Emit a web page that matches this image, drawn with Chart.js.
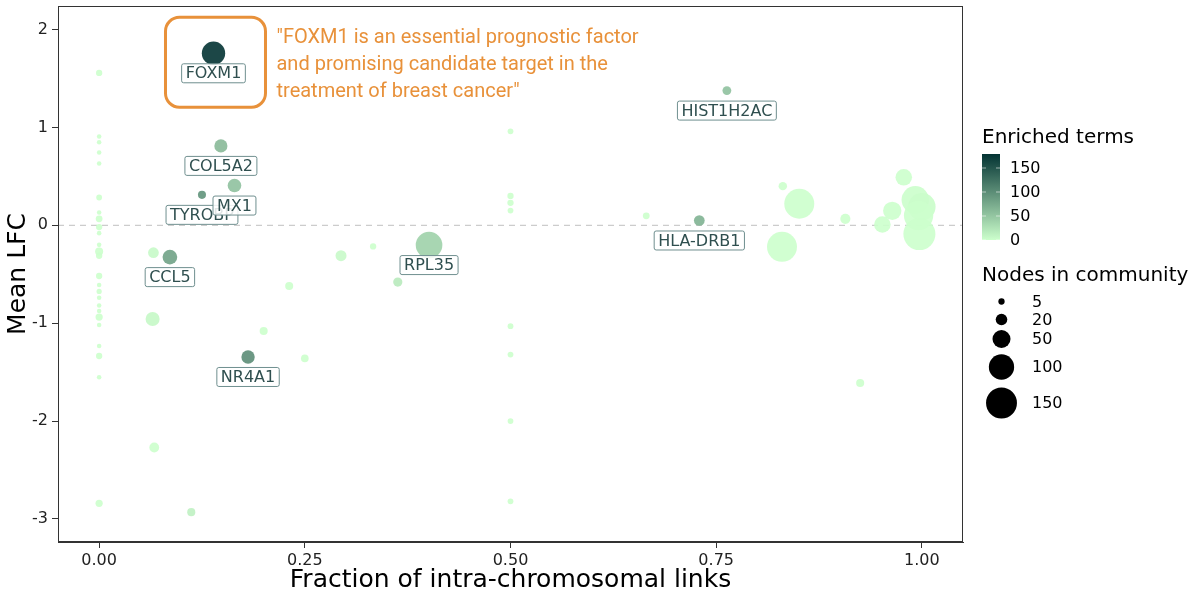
<!DOCTYPE html>
<html>
<head>
<meta charset="utf-8">
<script src="https://cdn.jsdelivr.net/npm/chart.js@4.4.0/dist/chart.umd.min.js"></script>
<style>
  html, body { margin: 0; padding: 0; background: #fff; }
</style>
</head>
<body>
<canvas id="myChart" width="1200" height="600"></canvas>
<script>
// one entry per community
const fraction = [
  0, 0, 0, 0, 0, 0, 0, 0, 0, 0, 0, 0, 0, 0, 0, 0, 0, 0, 0, 0, 0, 0, 0, 0, 0,
  0.066, 0.065, 0.067, 0.112, 0.231, 0.200, 0.250, 0.294, 0.333, 0.363,
  0.5, 0.5, 0.5, 0.5, 0.5, 0.5, 0.5, 0.5,
  0.665, 0.831, 0.851, 0.830, 0.907, 0.978, 0.964, 0.952, 0.992, 1.0, 0.996, 0.997, 0.925,
  0.139, 0.148, 0.125, 0.1645, 0.086, 0.181, 0.401, 0.7295, 0.763
];
const meanLfc = [
  1.556, 0.906, 0.849, 0.743, 0.631, 0.284, 0.131, 0.066, -0.018, -0.08, -0.20, -0.267, -0.311,
  -0.518, -0.61, -0.675, -0.74, -0.82, -0.875, -0.937, -1.018, -1.233, -1.335, -1.553, -2.84,
  -0.28, -0.957, -2.27, -2.93, -0.62, -1.08, -1.36, -0.31, -0.216, -0.58,
  0.96, 0.30, 0.23, 0.15, -1.03, -1.32, -2.00, -2.82,
  0.097, 0.40, 0.22, -0.22, 0.066, 0.49, 0.148, 0.008, 0.26, 0.19, 0.10, -0.09, -1.61,
  1.757, 0.811, 0.311, 0.406, -0.325, -1.345, -0.202, 0.049, 1.376
];
const nodes = [
  5, 2, 2, 2, 2, 4, 2, 6, 5, 2, 2, 9, 5,
  5, 2, 3, 2, 2, 2, 7, 2, 2, 5, 2, 7,
  17, 30, 14, 9, 9, 9, 8, 18, 5, 12,
  4, 5, 5, 4, 4, 4, 4, 4,
  6, 10, 141, 141, 15, 42, 52, 42, 118, 118, 135, 161, 9,
  85, 26, 9, 28, 33, 27, 111, 17, 11
];
const enriched = [
  0, 0, 0, 0, 0, 0, 0, 0, 0, 0, 0, 0, 0,
  0, 0, 0, 0, 0, 0, 0, 0, 0, 0, 0, 0,
  5, 6, 0, 12, 0, 0, 0, 4, 0, 18,
  0, 0, 0, 0, 0, 0, 0, 0,
  0, 0, 0, 0, 0, 0, 0, 0, 1, 2, 0, 0, 0,
  179, 61, 95, 54, 82, 100, 40, 68, 54
];
const genes = [
  "", "", "", "", "", "", "", "", "", "", "", "", "",
  "", "", "", "", "", "", "", "", "", "", "", "",
  "", "", "", "", "", "", "", "", "", "",
  "", "", "", "", "", "", "", "",
  "", "", "", "", "", "", "", "", "", "", "", "", "",
  "FOXM1", "COL5A2", "TYROBP", "MX1", "CCL5", "NR4A1", "RPL35", "HLA-DRB1", "HIST1H2AC"
];

const xTicks = [0, 0.25, 0.5, 0.75, 1];
const yTicks = [-3, -2, -1, 0, 1, 2];
const colorTicks = [0, 50, 100, 150];
const sizeBreaks = [5, 20, 50, 100, 150];
const quoteGene = "FOXM1";
const quoteLines = [
  '"FOXM1 is an essential prognostic factor',
  'and promising candidate target in the',
  'treatment of breast cancer"'
];

const LOW = [204, 255, 204];
const HIGH = [3, 51, 51];
const E_MAX = 179;

function fillFor(e, a) {
  const t = Math.min(e / E_MAX, 1);
  const c = LOW.map((v, i) => Math.round(v + (HIGH[i] - v) * t));
  return `rgba(${c[0]},${c[1]},${c[2]},${a})`;
}
function radiusFor(n) {
  return Math.sqrt(2 + 1.58 * n);
}

const points = fraction.map((x, i) => ({ x: x, y: meanLfc[i], r: radiusFor(nodes[i]) }));

const FONT = '"DejaVu Sans", sans-serif';

function roundRect(ctx, x, y, w, h, r) {
  ctx.beginPath();
  ctx.moveTo(x + r, y);
  ctx.arcTo(x + w, y, x + w, y + h, r);
  ctx.arcTo(x + w, y + h, x, y + h, r);
  ctx.arcTo(x, y + h, x, y, r);
  ctx.arcTo(x, y, x + w, y, r);
  ctx.closePath();
}

const decor = {
  id: 'decor',
  beforeDraw(chart) {
    const ctx = chart.ctx;
    ctx.save();
    ctx.fillStyle = '#fff';
    ctx.fillRect(0, 0, chart.width, chart.height);
    ctx.restore();
  },
  beforeDatasetsDraw(chart) {
    const ctx = chart.ctx, a = chart.chartArea;
    const y0 = chart.scales.y.getPixelForValue(0);
    ctx.save();
    ctx.strokeStyle = '#cccccc';
    ctx.lineWidth = 1.2;
    ctx.setLineDash([6, 5]);
    ctx.beginPath();
    ctx.moveTo(a.left, y0);
    ctx.lineTo(a.right, y0);
    ctx.stroke();
    ctx.restore();
  },
  afterDatasetsDraw(chart) {
    const ctx = chart.ctx;
    const meta = chart.getDatasetMeta(0);
    ctx.save();
    ctx.font = '16px ' + FONT;
    ctx.textAlign = 'center';
    ctx.textBaseline = 'middle';
    genes.forEach((g, i) => {
      if (!g) return;
      const el = meta.data[i];
      const w = ctx.measureText(g).width + 8;
      const h = 19;
      const cx = el.x, cy = el.y + 20;
      roundRect(ctx, cx - w / 2, cy - h / 2, w, h, 2);
      ctx.fillStyle = 'rgba(255,255,255,0.85)';
      ctx.fill();
      ctx.strokeStyle = '#6f8f8f';
      ctx.lineWidth = 1;
      ctx.stroke();
      ctx.fillStyle = '#2f4f4f';
      ctx.fillText(g, cx, cy + 1);
    });

    // highlighted community with quote
    const qi = genes.indexOf(quoteGene);
    const q = meta.data[qi];
    ctx.strokeStyle = '#E8913A';
    ctx.lineWidth = 3;
    roundRect(ctx, q.x - 48, q.y - 36, 100, 90, 14);
    ctx.stroke();
    ctx.fillStyle = '#E8913A';
    ctx.font = '20px Roboto, sans-serif';
    ctx.textAlign = 'left';
    ctx.textBaseline = 'alphabetic';
    quoteLines.forEach((line, k) => ctx.fillText(line, q.x + 63, q.y - 10 + k * 27));
    ctx.restore();
  },
  afterDraw(chart) {
    const ctx = chart.ctx, a = chart.chartArea;
    ctx.save();
    // panel border
    ctx.strokeStyle = '#333';
    ctx.lineWidth = 1;
    ctx.strokeRect(a.left + 0.5, a.top + 0.5, a.right - a.left - 1, a.bottom - a.top - 1);

    // axis titles
    ctx.fillStyle = '#000';
    ctx.font = '25px ' + FONT;
    ctx.textAlign = 'center';
    ctx.textBaseline = 'middle';
    ctx.fillText('Fraction of intra-chromosomal links', (a.left + a.right) / 2, 580);
    ctx.save();
    ctx.translate(18, (a.top + a.bottom) / 2);
    ctx.rotate(-Math.PI / 2);
    ctx.fillText('Mean LFC', 0, 0);
    ctx.restore();

    // colour legend
    ctx.textAlign = 'left';
    ctx.textBaseline = 'alphabetic';
    ctx.font = '20px ' + FONT;
    ctx.fillText('Enriched terms', 982, 143);
    const barTop = 154, barBot = 240, barL = 982, barW = 18;
    const pxPer = 24 / 50;
    const grad = ctx.createLinearGradient(0, barBot, 0, barTop);
    grad.addColorStop(0, fillFor(0, 1));
    grad.addColorStop(1, fillFor(E_MAX, 1));
    ctx.fillStyle = grad;
    ctx.fillRect(barL, barTop, barW, barBot - barTop);
    ctx.font = '16px ' + FONT;
    ctx.textBaseline = 'middle';
    colorTicks.forEach(v => {
      const y = barBot - v * pxPer;
      ctx.strokeStyle = 'rgba(255,255,255,0.55)';
      ctx.beginPath();
      ctx.moveTo(barL, y); ctx.lineTo(barL + 4, y);
      ctx.moveTo(barL + barW - 4, y); ctx.lineTo(barL + barW, y);
      ctx.stroke();
      ctx.fillStyle = '#000';
      ctx.fillText(String(v), 1010, y + 1);
    });

    // size legend
    ctx.textBaseline = 'alphabetic';
    ctx.font = '20px ' + FONT;
    ctx.fillText('Nodes in community', 982, 281);
    const sizeY = [301.5, 319.5, 339, 367, 403];
    ctx.font = '16px ' + FONT;
    ctx.textBaseline = 'middle';
    sizeBreaks.forEach((v, k) => {
      ctx.fillStyle = '#000';
      ctx.beginPath();
      ctx.arc(1001.5, sizeY[k], radiusFor(v), 0, Math.PI * 2);
      ctx.fill();
      ctx.fillText(String(v), 1032, sizeY[k] + 1);
    });
    ctx.restore();
  }
};

new Chart(document.getElementById('myChart').getContext('2d'), {
  type: 'bubble',
  data: {
    datasets: [{
      data: points,
      backgroundColor: enriched.map(e => fillFor(e, 0.9)),
      borderWidth: 0,
      hoverBorderWidth: 0
    }]
  },
  options: {
    responsive: false,
    animation: false,
    events: [],
    layout: { autoPadding: false, padding: { top: 6, right: 237, left: 0, bottom: 0 } },
    plugins: { legend: { display: false }, tooltip: { enabled: false } },
    scales: {
      x: {
        type: 'linear',
        min: -0.05,
        max: 1.05,
        afterFit: s => { s.height = 58; s.paddingLeft = 0; s.paddingRight = 0; },
        afterBuildTicks: s => { s.ticks = xTicks.map(v => ({ value: v })); },
        ticks: {
          color: '#222',
          font: { family: 'DejaVu Sans', size: 16 },
          padding: 3,
          callback: v => Number(v).toFixed(2)
        },
        grid: { drawOnChartArea: false, drawTicks: true, tickLength: 6, color: '#333' },
        border: { display: true, color: '#333' }
      },
      y: {
        type: 'linear',
        min: -3.235,
        max: 2.24,
        afterFit: s => { s.width = 58; s.paddingTop = 0; s.paddingBottom = 0; },
        afterBuildTicks: s => { s.ticks = yTicks.map(v => ({ value: v })); },
        ticks: {
          color: '#222',
          font: { family: 'DejaVu Sans', size: 16 },
          padding: 4,
          callback: v => String(v)
        },
        grid: { drawOnChartArea: false, drawTicks: true, tickLength: 6, color: '#333' },
        border: { display: true, color: '#333' }
      }
    }
  },
  plugins: [decor]
});
</script>
</body>
</html>
